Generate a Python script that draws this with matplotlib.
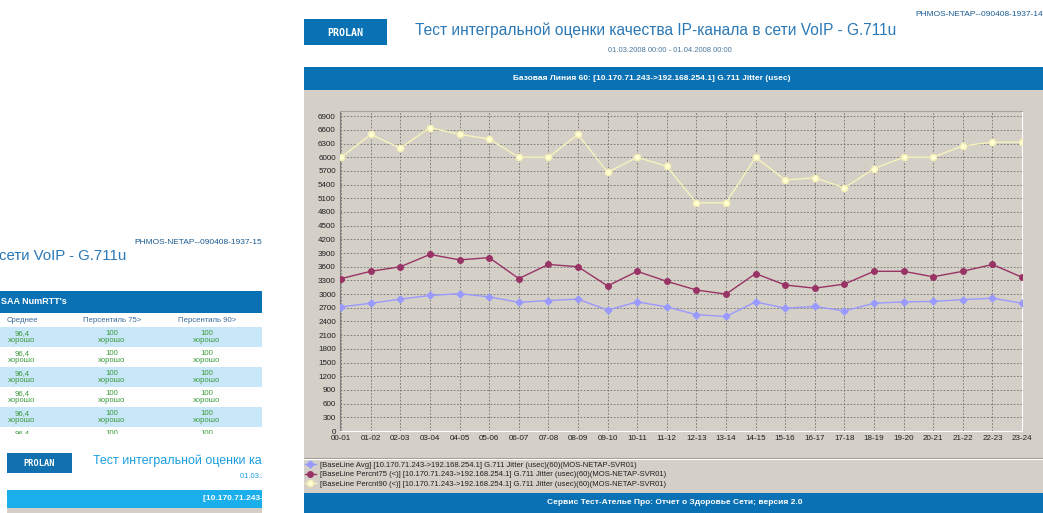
import matplotlib
matplotlib.use('Agg')
import matplotlib.pyplot as plt
from matplotlib.patches import Rectangle

plt.rcParams['font.family'] = ['Liberation Sans', 'DejaVu Sans']

# ---------------- data ----------------
hours = ["00-01", "01-02", "02-03", "03-04", "04-05", "05-06", "06-07", "07-08",
         "08-09", "09-10", "10-11", "11-12", "12-13", "13-14", "14-15", "15-16",
         "16-17", "17-18", "18-19", "19-20", "20-21", "21-22", "22-23", "23-24"]
avg = [2720, 2800, 2890, 2970, 3010, 2940, 2820, 2860, 2890, 2650, 2830, 2720,
       2550, 2510, 2830, 2690, 2730, 2630, 2800, 2830, 2840, 2880, 2910, 2800]
p75 = [3340, 3500, 3600, 3870, 3750, 3800, 3340, 3650, 3600, 3180, 3500, 3280,
       3090, 3000, 3450, 3200, 3130, 3220, 3500, 3500, 3380, 3500, 3650, 3370]
p90 = [6000, 6500, 6200, 6650, 6500, 6400, 6000, 6000, 6500, 5670, 6000, 5800,
       5000, 5000, 6000, 5500, 5550, 5330, 5750, 6000, 6000, 6250, 6330, 6330]
y_ticks = [0, 300, 600, 900, 1200, 1500, 1800, 2100, 2400, 2700, 3000, 3300,
           3600, 3900, 4200, 4500, 4800, 5100, 5400, 5700, 6000, 6300, 6600, 6900]
legend_labels = [
    "[BaseLine Avg] [10.170.71.243->192.168.254.1] G.711 Jitter (usec)(60)(MOS-NETAP-SVR01)",
    "[BaseLine Percnt75 (<)] [10.170.71.243->192.168.254.1] G.711 Jitter (usec)(60)(MOS-NETAP-SVR01)",
    "[BaseLine Percnt90 (<)] [10.170.71.243->192.168.254.1] G.711 Jitter (usec)(60)(MOS-NETAP-SVR01)",
]
title = "Тест интегральной оценки качества IP-канала в сети VoIP - G.711u"
title_tail = "сети VoIP - G.711u"
date_range = "01.03.2008 00:00 - 01.04.2008 00:00"
chart_header = "Базовая Линия 60: [10.170.71.243->192.168.254.1] G.711 Jitter (usec)"
footer = "Сервис Тест-Ателье Про: Отчет о Здоровье Сети; версия 2.0"
table_cols = ["Среднее", "Персентиль 75>", "Персентиль 90>"]
table_vals = ["96,4", "100", "100"]
table_rating = ["хорошо", "хорошо", "хорошо"]

BLUE = '#0a72b4'
GREY = '#d4d0c8'
LIGHTBAND = '#c8e7f8'
TXTBLUE = '#2a78b6'

W, H = 1043, 513
fig = plt.figure(figsize=(W / 100, H / 100), dpi=100)
fig.patch.set_facecolor('white')

# background (pixel coordinates)
bg = fig.add_axes([0, 0, 1, 1])
bg.set_xlim(0, W)
bg.set_ylim(H, 0)
bg.axis('off')

# right report page
bg.add_patch(Rectangle((304, 19), 83, 26, color=BLUE, lw=0))
bg.text(345.5, 32.5, "PRОLAN", color='white', fontsize=7.2, fontweight='bold',
        family='DejaVu Sans Mono', ha='center', va='center')
bg.text(415, 30, title, color=TXTBLUE, fontsize=11.2, ha='left', va='center')
bg.text(670, 50, date_range, color='#4a78a0', fontsize=5.5, ha='center', va='center')
bg.text(1043, 15, "PHMOS-NETAP--090408-1937-14", color='#1a5a90', fontsize=6,
        ha='right', va='center')
bg.add_patch(Rectangle((304, 67), W - 304, 23, color=BLUE, lw=0))
bg.text(652, 78.5, chart_header, color='white', fontsize=6, fontweight='bold',
        ha='center', va='center')
bg.add_patch(Rectangle((304, 90), W - 304, 403, color=GREY, lw=0))
bg.plot([304, W], [457.5, 457.5], color='#a09c94', lw=0.8)
bg.plot([304, W], [458.7, 458.7], color='white', lw=0.8)
bg.add_patch(Rectangle((304, 493), W - 304, 20, color=BLUE, lw=0))
bg.text(675, 503, footer, color='white', fontsize=6, fontweight='bold',
        ha='center', va='center')

# left page (upper part, clipped at x=262, y=434)
lp = fig.add_axes([0, (H - 434) / H, 262 / W, 434 / H])
lp.set_xlim(0, 262)
lp.set_ylim(434, 0)
lp.axis('off')
lp.text(262, 242, "PHMOS-NETAP--090408-1937-15", color='#1a5a90', fontsize=6,
        ha='right', va='center', clip_on=True)
lp.text(126, 256, title_tail, color=TXTBLUE, fontsize=10.8, ha='right', va='center',
        clip_on=True)
lp.add_patch(Rectangle((0, 291), 262, 22, color=BLUE, lw=0))
lp.text(1, 302, "SAA NumRTT's", color='white', fontsize=6.5, fontweight='bold',
        ha='left', va='center', clip_on=True)
col_x = [22, 112, 207]
for cx, name in zip(col_x, table_cols):
    lp.text(cx, 320, name, color='#3a6a9a', fontsize=5.6, ha='center', va='center', clip_on=True)
for i in range(6):
    top = 327 + 20 * i
    if i % 2 == 0:
        lp.add_patch(Rectangle((0, top), 262, 20, color=LIGHTBAND, lw=0))
    for cx, v, r in zip(col_x, table_vals, table_rating):
        lp.text(cx, top + 6.5, v, color='#3c9a3c', fontsize=5.6, ha='center',
                va='center', clip_on=True)
        lp.text(cx, top + 14, r, color='#3c9a3c', fontsize=5.6, ha='center',
                va='center', clip_on=True)

# left page (second report, lower part)
lp2 = fig.add_axes([0, 0, 262 / W, (H - 434) / H])
lp2.set_xlim(0, 262)
lp2.set_ylim(H, 434)
lp2.axis('off')
lp2.add_patch(Rectangle((7, 453), 65, 20, color='#1070b0', lw=0))
lp2.text(39.5, 463.5, "PRОLAN", color='white', fontsize=6.2, fontweight='bold',
         family='DejaVu Sans Mono', ha='center', va='center', clip_on=True)
lp2.text(93, 461, title, color='#1a9ee0', fontsize=9.0, ha='left', va='center', clip_on=True)
lp2.text(240, 477, date_range, color='#1a9ee0', fontsize=5.5, ha='left', va='center', clip_on=True)
lp2.add_patch(Rectangle((7, 490), 255, 18, color='#1aaeea', lw=0))
lp2.text(203, 499, chart_header.split(": ")[1], color='white', fontsize=6,
         fontweight='bold', ha='left', va='center', clip_on=True)
lp2.add_patch(Rectangle((7, 508), 255, 5, color=GREY, lw=0))

# ---------------- chart ----------------
ax = fig.add_axes([340 / W, (H - 431) / H, (1022 - 340) / W, (431 - 110.7) / H])
ax.set_facecolor(GREY)
x = list(range(len(hours)))
l_avg, = ax.plot(x, avg, color='#9999ff', lw=1, marker='D', ms=3.5,
                 mfc='#9999ff', mec='#9999ff', zorder=3)
l_p75, = ax.plot(x, p75, color='#993366', lw=1, marker='o', ms=4,
                 mfc='#993366', mec='#993366', zorder=3)
l_p90, = ax.plot(x, p90, color='#f7f2bc', lw=1, marker='o', ms=4.5,
                 mfc='#ffffd4', mec='#f3eeb4', zorder=3)
ax.set_xlim(-0.04, len(hours) - 1)
ax.set_ylim(0, 7020)
ax.set_xticks(x)
ax.set_xticklabels(hours)
ax.set_yticks(y_ticks)
ax.set_yticklabels([str(v) for v in y_ticks])
ax.grid(True, linestyle=(0, (2, 2)), color='#707070', lw=0.6)
ax.set_axisbelow(True)
ax.tick_params(length=0, labelsize=5.8, pad=3, colors='#202020')
ax.spines['left'].set_color('#808080')
ax.spines['top'].set_color('#a8a49c')
ax.spines['right'].set_color('white')
ax.spines['bottom'].set_color('white')
for s in ax.spines.values():
    s.set_linewidth(0.8)

fig.legend(handles=[l_avg, l_p75, l_p90], labels=legend_labels, loc='upper left',
           bbox_to_anchor=(305 / W, 1 - 461.5 / H), frameon=False, fontsize=5.5,
           handlelength=1.4, handletextpad=0.5, labelspacing=0.28, borderpad=0,
           borderaxespad=0, labelcolor='#202020')

fig.savefig('out.png', dpi=100, facecolor='white')
